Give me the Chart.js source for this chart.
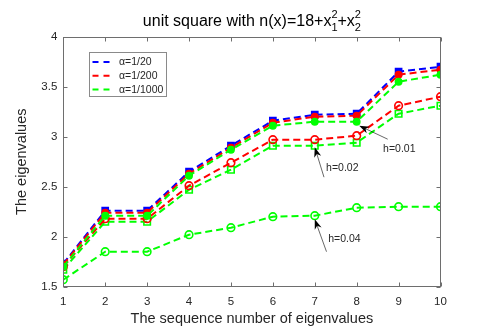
<!DOCTYPE html>
<html><head><meta charset="utf-8">
<script src="https://cdn.jsdelivr.net/npm/chart.js@4.4.1/dist/chart.umd.min.js"></script>
<style>html,body{margin:0;padding:0;background:#fff}#wrap{width:487px;height:330px}</style>
</head><body><div id="wrap"><canvas id="c" width="487" height="330"></canvas></div>
<script>
// ---- data ----
const seqNumbers = [1, 2, 3, 4, 5, 6, 7, 8, 9, 10];
const xTickValues = [1, 2, 3, 4, 5, 6, 7, 8, 9, 10];
const yTickValues = [1.5, 2, 2.5, 3, 3.5, 4];
const h001_alpha20   = [1.73, 2.26, 2.26, 2.65, 2.91, 3.16, 3.22, 3.23, 3.65, 3.70];
const h001_alpha200  = [1.72, 2.24, 2.24, 2.63, 2.89, 3.14, 3.20, 3.21, 3.62, 3.67];
const h001_alpha1000 = [1.70, 2.21, 2.21, 2.61, 2.87, 3.11, 3.15, 3.15, 3.55, 3.62];
const h002_alpha200  = [1.70, 2.18, 2.18, 2.51, 2.74, 2.97, 2.97, 3.01, 3.31, 3.40];
const h002_alpha1000 = [1.67, 2.15, 2.15, 2.47, 2.67, 2.91, 2.91, 2.94, 3.23, 3.31];
const h004_alpha1000 = [1.57, 1.85, 1.85, 2.02, 2.09, 2.20, 2.21, 2.29, 2.30, 2.30];
const legendLabels = ['\u03b1=1/20', '\u03b1=1/200', '\u03b1=1/1000'];
const annotationLabels = ['h=0.01', 'h=0.02', 'h=0.04'];

// ---- styling / annotation anchors (data coordinates) ----
const BLUE = '#0000ff', RED = '#ff0000', GREEN = '#00ff00', TXT = '#262626';
const FONT = '"Liberation Sans", Arial, Helvetica, sans-serif';
const annotationAnchors = [
  {tip: [8.06, 3.11], tail: [8.74, 2.975], text: [8.63, 2.877]},
  {tip: [7.0, 2.895], tail: [7.22, 2.595], text: [7.27, 2.684]},
  {tip: [7.0, 2.175], tail: [7.28, 1.85],  text: [7.32, 1.977]}
];

function pts(arr) { return seqNumbers.map((x, i) => ({x: x, y: arr[i]})); }
function ds(arr, color, style, radius, filled) {
  return {
    data: pts(arr), borderColor: color, backgroundColor: filled ? color : 'rgba(0,0,0,0)',
    borderWidth: 2, borderDash: [7, 4], pointStyle: style, pointRadius: radius,
    pointBorderColor: color, pointBackgroundColor: filled ? color : 'rgba(0,0,0,0)',
    pointBorderWidth: filled ? 1.5 : 1.6, fill: false, tension: 0
  };
}

const boxPlugin = {
  id: 'boxPlugin',
  afterDatasetsDraw(chart) {
    const {ctx, chartArea: a, scales} = chart;
    const xs = scales.x, ys = scales.y;
    ctx.save();
    // annotations
    annotationAnchors.forEach((an, i) => {
      const tx = xs.getPixelForValue(an.tip[0]), ty = ys.getPixelForValue(an.tip[1]);
      const sx = xs.getPixelForValue(an.tail[0]), sy = ys.getPixelForValue(an.tail[1]);
      const ang = Math.atan2(ty - sy, tx - sx);
      const L = 10, W = 3.6;
      ctx.strokeStyle = '#000'; ctx.lineWidth = 0.6;
      ctx.beginPath(); ctx.moveTo(sx, sy); ctx.lineTo(tx - Math.cos(ang) * 4, ty - Math.sin(ang) * 4); ctx.stroke();
      ctx.fillStyle = '#000';
      ctx.beginPath();
      ctx.moveTo(tx, ty);
      const bx = tx - Math.cos(ang) * L, by = ty - Math.sin(ang) * L;
      ctx.lineTo(bx + Math.sin(ang) * W, by - Math.cos(ang) * W);
      ctx.lineTo(tx - Math.cos(ang) * L * 0.7, ty - Math.sin(ang) * L * 0.7);
      ctx.lineTo(bx - Math.sin(ang) * W, by + Math.cos(ang) * W);
      ctx.closePath(); ctx.fill();
      ctx.fillStyle = TXT; ctx.font = '10.5px ' + FONT;
      ctx.textAlign = 'left'; ctx.textBaseline = 'middle';
      ctx.fillText(annotationLabels[i], xs.getPixelForValue(an.text[0]), ys.getPixelForValue(an.text[1]));
    });
    // axes box
    ctx.strokeStyle = '#6e6e6e'; ctx.lineWidth = 1;
    const L = Math.round(a.left) + 0.5, R = Math.round(a.right) - 0.5, T = Math.round(a.top) + 0.5, B = Math.round(a.bottom) - 0.5;
    ctx.strokeRect(L, T, R - L, B - T);
    ctx.beginPath();
    xTickValues.forEach(v => {
      const px = Math.round(xs.getPixelForValue(v)) + 0.5;
      ctx.moveTo(px, B); ctx.lineTo(px, B - 4);
      ctx.moveTo(px, T); ctx.lineTo(px, T + 4);
    });
    yTickValues.forEach(v => {
      const py = Math.round(ys.getPixelForValue(v)) + 0.5;
      ctx.moveTo(L, py); ctx.lineTo(L + 4, py);
      ctx.moveTo(R, py); ctx.lineTo(R - 4, py);
    });
    ctx.stroke();
    // legend
    const lx = 89.5, ly = 52.5, lw = 77, lh = 44;
    ctx.fillStyle = '#fff'; ctx.fillRect(lx, ly, lw, lh);
    ctx.strokeStyle = '#8a8a8a'; ctx.lineWidth = 1; ctx.strokeRect(lx, ly, lw, lh);
    const cols = [BLUE, RED, GREEN];
    legendLabels.forEach((lab, i) => {
      const yy = ly + 9.5 + i * 13.8;
      ctx.strokeStyle = cols[i]; ctx.lineWidth = 2; ctx.setLineDash([6, 5]);
      ctx.beginPath(); ctx.moveTo(92.5, yy); ctx.lineTo(110.5, yy); ctx.stroke();
      ctx.setLineDash([]);
      ctx.fillStyle = TXT; ctx.font = '10.5px ' + FONT; ctx.textAlign = 'left'; ctx.textBaseline = 'middle';
      ctx.fillText(lab, 119, yy + 0.5);
    });
    // title with sub/superscripts
    const segs = [{t: 'unit square with n(x)=18+x'}, {sub: '1', sup: '2'}, {t: '+x'}, {sub: '2', sup: '2'}];
    const mainF = '16px ' + FONT, smallF = '11px ' + FONT;
    let total = 0;
    segs.forEach(s => {
      if (s.t) { ctx.font = mainF; s.w = ctx.measureText(s.t).width; }
      else { ctx.font = smallF; s.w = Math.max(ctx.measureText(s.sub).width, ctx.measureText(s.sup).width); }
      total += s.w;
    });
    let cx = (a.left + a.right) / 2 - total / 2;
    const base = 26;
    ctx.fillStyle = '#000'; ctx.textAlign = 'left'; ctx.textBaseline = 'alphabetic';
    segs.forEach(s => {
      if (s.t) { ctx.font = mainF; ctx.fillText(s.t, cx, base); }
      else { ctx.font = smallF; ctx.fillText(s.sub, cx, base + 5); ctx.fillText(s.sup, cx, base - 8); }
      cx += s.w;
    });
    ctx.restore();
  }
};

new Chart(document.getElementById('c'), {
  type: 'line',
  data: {
    datasets: [
      ds(h001_alpha1000, GREEN, 'circle', 3.2, true),
      ds(h001_alpha200, RED, 'circle', 3.2, true),
      ds(h001_alpha20, BLUE, 'rect', 4.4, true),
      ds(h002_alpha200, RED, 'circle', 3.8, false),
      ds(h002_alpha1000, GREEN, 'rect', 4.6, false),
      ds(h004_alpha1000, GREEN, 'circle', 3.8, false)
    ]
  },
  plugins: [boxPlugin],
  options: {
    responsive: false, animation: false, devicePixelRatio: 1,
    layout: {padding: {top: 36.7, right: 46.5, left: 0, bottom: 0}},
    plugins: {legend: {display: false}, tooltip: {enabled: false}, title: {display: false}},
    scales: {
      x: {
        type: 'linear', min: 1, max: 10,
        afterBuildTicks: s => { s.ticks = xTickValues.map(v => ({value: v})); },
        afterFit: s => { s.height = 43.3; },
        grid: {display: false, drawTicks: false, tickLength: 0}, border: {display: false},
        ticks: {color: TXT, font: {family: FONT, size: 11.5}, padding: 8, maxRotation: 0, autoSkip: false},
        title: {display: true, text: 'The sequence number of eigenvalues', color: TXT,
                font: {family: FONT, size: 14.5}, padding: {top: 0, bottom: 2}}
      },
      y: {
        type: 'linear', min: 1.5, max: 4,
        afterBuildTicks: s => { s.ticks = yTickValues.map(v => ({value: v})); },
        afterFit: s => { s.width = 63.3; },
        grid: {display: false, drawTicks: false, tickLength: 0}, border: {display: false},
        ticks: {color: TXT, font: {family: FONT, size: 11.5}, padding: 6, callback: v => String(v)},
        title: {display: true, text: 'The eigenvalues', color: TXT,
                font: {family: FONT, size: 14.5}, padding: {top: 13, bottom: 0}}
      }
    }
  }
});
</script></body></html>
